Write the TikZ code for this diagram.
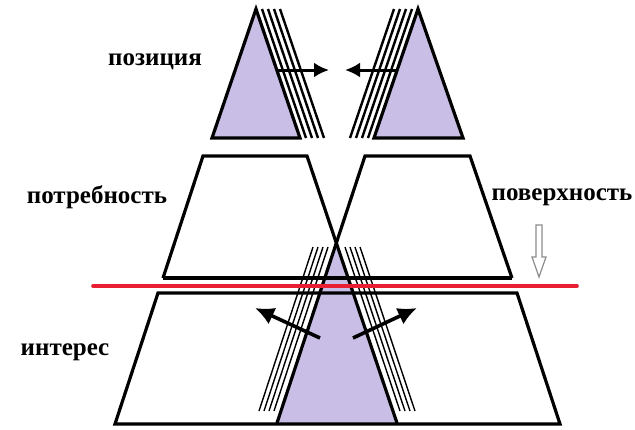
\documentclass[tikz,border=0pt]{standalone}
\usepackage{fontspec}
\setmainfont{Liberation Serif}
\usepackage{tikz}
\usetikzlibrary{
    arrows.meta,
    positioning,
    calc
}
\definecolor{Lavender}{RGB}{200,190,230}
\definecolor{CutRed}{RGB}{232,30,50}
\definecolor{HintGray}{RGB}{140,140,140}

\begin{document}
\begin{tikzpicture}[
    x=1pt,
    y=-1pt,
    >=Latex,
    edge/.style={line width=3.2pt, line join=miter},
    hatch/.style={line width=2.4pt},
    thinhatch/.style={line width=1.4pt},
    push/.style={->, line width=3.6pt, >={Latex[length=19pt,width=18pt]}},
    levelname/.style={font=\fontsize{25}{28}\selectfont\bfseries, inner sep=0pt}
]
\useasboundingbox (0,0) rectangle (635,429);

% labels
\node[levelname] (pos) at (155,62) {позиция};
\node[levelname] (need) at (97,197) {потребность};
\node[levelname] (surf) at (562,197) {поверхность};
\node[levelname] (inter) at (65,352) {интерес};

% top: positions
\coordinate (la) at (256,9);
\coordinate (ll) at (212,138);
\coordinate (lr) at (300,138);
\coordinate (ra) at (418,9);
\coordinate (rl) at (374,138);
\coordinate (rr) at (463,138);

\fill[Lavender] (la) -- (ll) -- (lr) -- cycle;
\fill[Lavender] (ra) -- (rl) -- (rr) -- cycle;
\foreach \d in {6,12,18,24} {
    \draw[hatch] ($(la)+(\d,0)$) -- ($(lr)+(\d,0)$);
    \draw[hatch] ($(ra)-(\d,0)$) -- ($(rl)-(\d,0)$);
}
\draw[edge] (la) -- (ll) -- (lr) -- cycle;
\draw[edge] (ra) -- (rl) -- (rr) -- cycle;

\coordinate (ls) at (277,70);
\coordinate (lt) at (329,70);
\coordinate (rs) at (397,70);
\coordinate (rt) at (345,70);
\draw[push, line width=3pt, >={Latex[length=15pt,width=15pt]}] (ls) -- (lt);
\draw[push, line width=3pt, >={Latex[length=15pt,width=15pt]}] (rs) -- (rt);

% middle and bottom: needs and interests
\coordinate (mlt) at (203,156);
\coordinate (mlb) at (163,278);
\coordinate (mrt) at (470,156);
\coordinate (mrb) at (512,278);
\coordinate (cl) at (307,156);
\coordinate (cr) at (365,156);
\coordinate (cx) at (336.3,243);
\coordinate (bl) at (277,423);
\coordinate (br) at (397,423);

\fill[Lavender] (cx) -- (bl) -- (br) -- cycle;

\foreach \d in {0,5,10,15} {
    \draw[thinhatch] (313+\d,247) -- (259+\d,411);
    \draw[thinhatch] (345+\d,247) -- (400+\d,411);
}

\draw[edge] (mlb) -- (mlt) -- (cl) -- (br);
\draw[edge] (mrb) -- (mrt) -- (cr) -- (bl);
\draw[edge] (mlb) -- (mrb);

\coordinate (blt) at (158,293);
\coordinate (blb) at (115,424);
\coordinate (brt) at (517,293);
\coordinate (brb) at (560,424);
\draw[edge] (blt) -- (brt) -- (brb) -- (blb) -- cycle;

% surface line
\coordinate (cutl) at (93,286);
\coordinate (cutr) at (577,286);
\draw[CutRed, line width=3.6pt, line cap=round] (cutl) -- (cutr);

% hint arrow
\draw[HintGray, line width=1.2pt, line join=miter]
    (536,225) -- (542,225) -- (542,257) -- (546,257) -- (539,277)
    -- (532,257) -- (536,257) -- cycle;

% pushes
\coordinate (ps1) at (320,338);
\coordinate (pt1) at (255,308);
\coordinate (ps2) at (353,338);
\coordinate (pt2) at (417,308);
\draw[push] (ps1) -- (pt1);
\draw[push] (ps2) -- (pt2);

\end{tikzpicture}
\end{document}
